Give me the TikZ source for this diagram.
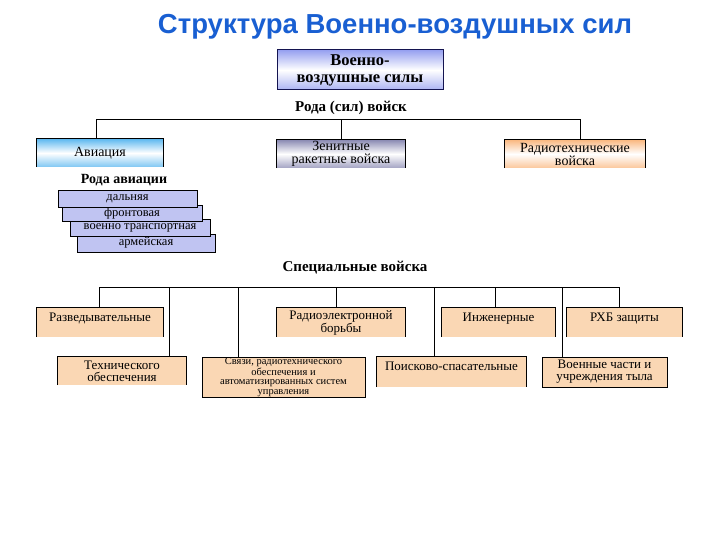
\documentclass[tikz,border=0pt]{standalone}
\usepackage{fontspec}
\setmainfont{Liberation Serif}
\newfontfamily\headfont{Liberation Sans}
\usetikzlibrary{positioning, calc}
\definecolor{tBlue} {RGB}{ 25,  95, 210}
\definecolor{vC}    {RGB}{150, 160, 240}
\definecolor{aC}    {RGB}{ 95, 185, 240}
\definecolor{zC}    {RGB}{140, 140, 180}
\definecolor{rC}    {RGB}{250, 185, 130}
\definecolor{sC}    {RGB}{250, 215, 180}
\definecolor{lC}    {RGB}{192, 196, 242}
\definecolor{nC}    {RGB}{ 20,  20,  80}
\tikzset{
  grad/.style  = {rectangle, top color=#1, bottom color=#1!80, middle color=white,
                  align=center, inner sep=0pt, font=\fontsize{14}{13}\selectfont},
  spec/.style  = {rectangle, fill=sC, align=center, inner sep=1pt,
                  font=\fontsize{13}{12}\selectfont},
  kind/.style  = {rectangle, draw=black, fill=lC, line width=0.8pt, align=center,
                  inner sep=0pt, font=\fontsize{12.5}{12}\selectfont},
  head/.style  = {font=\fontsize{15}{15}\selectfont\bfseries},
  hi/.style    = {text depth=11pt},
  side/.style  = {line width=0.9pt, color=black},
  conn/.style  = {line width=0.8pt, color=black},
}

\begin{document}
\begin{tikzpicture}[x=1pt, y=-1pt]
\useasboundingbox (0,0) rectangle (720,540);

% ---- Title ------------------------------------------------------------------
\node[font=\headfont\bfseries\fontsize{27.5}{27.5}\selectfont, text=tBlue]
  (title) at (395,27) {Структура Военно-воздушных сил};

% ---- Top box ----------------------------------------------------------------
\node[grad=vC, draw=nC, line width=1pt, minimum width=166, minimum height=40,
      font=\fontsize{16.5}{17}\selectfont\bfseries]
  (vvs) at (360,70) {Военно-\\воздушные силы};

\node[head] (rodv) at (351,108) {Рода (сил) войск};

% ---- Branches ---------------------------------------------------------------
\node[grad=aC, minimum width=126, minimum height=28] (avia) at (100,153) {Авиация};
\node[grad=zC, minimum width=128, minimum height=28] (zrv)  at (341,154)
  {Зенитные\\ракетные войска};
\node[grad=rC, minimum width=140, minimum height=28] (rtv)  at (575,154)
  {Радиотехнические\\войска};

\coordinate (bus1) at (341,119);
\draw[conn] ([xshift=-4]avia.north) |- (bus1);
\draw[conn] ([xshift=5]rtv.north) |- (bus1);
\draw[conn] (zrv.north) -- (bus1);

% ---- Kinds of aviation ------------------------------------------------------
\node[head, font=\fontsize{14}{14}\selectfont\bfseries] (roda) at (124,180) {Рода авиации};

\node[kind, minimum width=138, minimum height=18] (arm) at (146,243) {армейская};
\node[kind, minimum width=140, minimum height=17] (vta) at (140,227.5) {военно транспортная};
\node[kind, minimum width=140, minimum height=16] (fra) at (132,213.5) {фронтовая};
\node[kind, minimum width=139, minimum height=17] (daa) at (127.5,198.5) {дальняя};

% ---- Special troops ---------------------------------------------------------
\node[head] (specv) at (355,268) {Специальные войска};

\node[spec, hi, minimum width=126, minimum height=29] (razv) at (100,322.5) {Разведывательные};
\node[spec, minimum width=128, minimum height=29] (reb)  at (341,322.5)
  {Радиоэлектронной\\борьбы};
\node[spec, hi, minimum width=113, minimum height=29] (inzh) at (498.5,322.5) {Инженерные};
\node[spec, hi, minimum width=115, minimum height=29] (rhb)  at (624.5,322.5) {РХБ защиты};

\node[spec, minimum width=128, minimum height=28] (tech) at (122,371)
  {Технического\\обеспечения};
\node[spec, minimum width=163, minimum height=40, draw=black, line width=0.9pt,
      inner sep=0pt, font=\fontsize{10.5}{9.5}\selectfont]
  (svyaz) at (283.5,377)
  {Связи, радиотехнического\\обеспечения и\\автоматизированных систем\\управления};
\node[spec, hi, minimum width=149, minimum height=30] (poisk) at (451.5,372) {Поисково-спасательные};
\node[spec, minimum width=125, minimum height=30, draw=black, line width=0.9pt]
  (tyl) at (604.5,372) {Военные части и\\учреждения тыла};

% open-bottom frames
\foreach \n in {avia, zrv, rtv, razv, reb, inzh, rhb, tech, poisk}
  \draw[side] (\n.south west) |- (\n.north east) -- (\n.south east);

\coordinate (bus2) at (359,287);
\foreach \n/\dx in {razv/-1, tech/47, svyaz/-45.5, reb/-5, poisk/-17.5,
                    inzh/-3.5, tyl/-42.5, rhb/-5.5}
  \draw[conn] ([xshift=\dx]\n.north) |- (bus2);

\end{tikzpicture}
\end{document}
